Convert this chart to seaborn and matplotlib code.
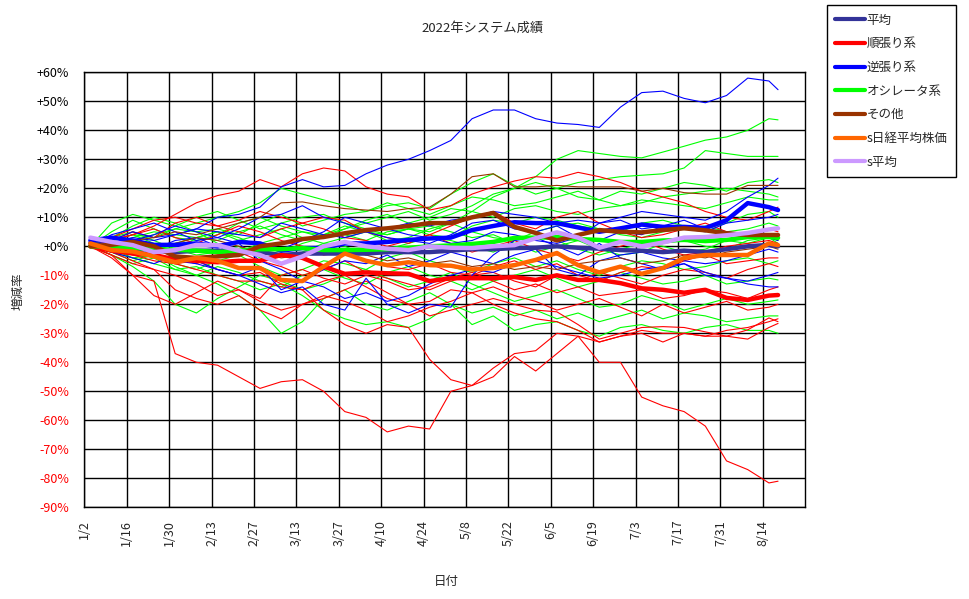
import matplotlib
matplotlib.use("Agg")
import matplotlib.pyplot as plt
import seaborn as sns
import pandas as pd
from datetime import datetime
from matplotlib.lines import Line2D

sns.set_theme(style="white")
plt.rcParams['font.family'] = ['Noto Sans CJK JP', 'DejaVu Sans']

# ---------------- data (weekly readings, % change) ----------------
date_labels = ["1/4", "1/11", "1/18", "1/25",
               "2/1", "2/8", "2/15", "2/22",
               "3/1", "3/8", "3/15", "3/22", "3/29",
               "4/5", "4/12", "4/19", "4/26",
               "5/3", "5/10", "5/17", "5/24", "5/31",
               "6/7", "6/14", "6/21", "6/28",
               "7/5", "7/12", "7/19", "7/26",
               "8/2", "8/9", "8/16", "8/19"]

x_tick_labels = ["1/2", "1/16", "1/30", "2/13", "2/27", "3/13", "3/27", "4/10",
                 "4/24", "5/8", "5/22", "6/5", "6/19", "7/3", "7/17", "7/31", "8/14"]
y_ticks = [60, 50, 40, 30, 20, 10, 0, -10, -20, -30, -40, -50, -60, -70, -80, -90]
y_tick_labels = ["+60%", "+50%", "+40%", "+30%", "+20%", "+10%", "+0%", "-10%", "-20%",
                 "-30%", "-40%", "-50%", "-60%", "-70%", "-80%", "-90%"]

# thick summary series
heikin = [1, 0, -0.5, -1.5, -2, -1.5, -1.5, -2, -2, -3, -2.5, -2.5, -2.5,
          -2.5, -2, -2, -2, -1.5, -1, -1, -0.6, -0.5, 0, -0.5, -0.8, -1.3,
          -1.5, -2, -1.5, -2, -1, 0, 0.5, 0]
jun_avg = [0, -1.5, -2.5, -3, -4.5, -5, -5.5, -5, -5, -3, -4, -7, -9.5,
           -9, -9.3, -9.5, -12, -11, -11, -11, -10.6, -11.6, -10, -11.6, -11.6, -12.7,
           -14.5, -15, -16, -15, -17.8, -18.5, -17, -16.8]
gyaku_avg = [2, 3, 2, 0.5, 0.5, 1, 0, 1.5, 1, -1.5, -0.6, -0.6, 1,
             1, 1.5, 2.2, 2.7, 3, 5.6, 7, 8.3, 8, 8, 6.5, 5, 6.2,
             7.5, 6.7, 6.7, 6.3, 9, 14.9, 13.5, 12.5]
osc_avg = [0, 0, -0.5, -1, -1.2, -1.5, -2, -1.5, -1, -1, -0.6, -1.3, -1.3,
           -1.2, -1, -0.5, 0, 0.3, 0.8, 1.5, 2.9, 3, 3.2, 2.5, 2.2, 1.5,
           1.5, 2, 2.2, 1.8, 2.2, 3.2, 3.2, 2.9]
sonota_avg = [0, 0.5, 1.5, 0, -3.5, -4, -3.5, -3, 0, 1, 2.5, 3.2, 4.5,
              5.6, 6.2, 7, 8, 8, 10, 11.5, 6.7, 4.6, 2, 3.9, 5.6, 5,
              4.8, 5.6, 6.2, 5.5, 4.5, 3.9, 3.9, 3.9]
s_nikkei = [1, -1.3, -1.8, -3.5, -5.5, -4, -5, -7.5, -7.5, -11.6, -12, -7, -2.5,
            -5, -6.5, -5.5, -6.5, -6.7, -8, -7.5, -6.5, -4.7, -2.3, -6.5, -9, -7,
            -9.5, -7.5, -4, -3, -3, -3, 1, 0.4]
s_heikin = [3, 1.5, 0.4, -2, -1.3, 0.5, 0.4, -1.5, -3, -6, -3.5, 0, 1.5,
            0, -0.8, -1.3, 0, -0.5, -0.6, 0, 0.4, 2.8, 4.8, 3, -0.5, 1.5,
            0, 1.3, 3, 3.2, 3.8, 4.6, 5.8, 6.2]

# thin individual systems - 逆張り (blue)
blue_1 = [0, 2, 5, 3, 4, 6, 10, 11, 13.5, 20.5, 23, 20.5, 21,
          25, 28, 30, 33, 36.5, 44, 47, 47, 44, 42.5, 42, 41, 48,
          53, 53.5, 51, 49.5, 52, 58, 57, 54]
blue_2 = [0, -1, -2, -3, -5, -6, -8, -10, -13, -16, -14, -20, -22,
          -11, -20, -23, -20, -21, -10, -3, 2, 3, 0, -3, 1, -4,
          -6, -8, -6, -10, -11, -13, -14, -14]
blue_3 = [0, 1, 3, 2, 4, 6, 5, 4, 3, 8, 6, 4, 3,
          5, 6, 8, 7, 9, 10, 12, 11, 10, 8, 9, 8, 10,
          12, 11, 10, 9, 12, 17, 21, 23.5]
blue_4 = [0, 4, 6, 8, 5, 2, 3, 6, 10, 11, 14, 10, 8,
          5, 3, 2, 1, 4, 8, 9, 6, 5, 7, 3, 8, 9,
          6, 7, 6, 5, 8, 9, 10, 11]
blue_5 = [0, -2, -4, -6, -3, -5, -8, -10, -7, -15, -12, -8, -5,
          -6, -3, -7, -5, -2, -4, -6, -3, -1, -8, -10, -5, -3,
          -2, -4, -5, -6, -5, -3, -1, -2]
blue_6 = [0, 3, 1, -1, 2, 3, 0, -3, -2, -1, 2, 5, 10,
          8, 6, 4, 3, 1, 2, 5, 4, 2, 1, 3, 2, 5,
          4, 7, 9, 6, 5, 4, 3, 2]
blue_7 = [0, -1, 2, 4, 7, 5, 3, 1, -5, -8, -12, -14, -18,
          -16, -19, -17, -13, -10, -8, -9, -6, -5, -7, -9, -11, -10,
          -8, -7, -6, -9, -11, -12, -10, -9]

# thin individual systems - 順張り (red)
red_1 = [0, 2, 4, 7, 11, 15, 17.5, 19, 23, 20.5, 25, 27, 26,
         20.5, 18, 17, 12.5, 14, 18, 20.5, 22.5, 24, 23.5, 25.5, 24, 22,
         19, 17, 15, 12, 10, 9, 12, 13.5]
red_2 = [0, -3, -10, -12, -37, -40, -41, -45, -49, -46.7, -46, -50, -57,
         -59, -64, -62, -63, -50, -48, -45, -38, -43, -37, -31, -40, -40,
         -52, -55, -57, -62, -74, -77, -81.6, -81]
red_3 = [0, -1, -3, -5, -6, -8, -10, -12, -12, -14, -15, -22, -27,
         -30, -27, -28, -39, -46, -48, -42, -37, -36, -30, -31, -33, -31,
         -30, -33, -30, -31, -31, -32, -28, -26.6]
red_4 = [0, -2, -5, -8, -15, -18, -20, -17, -22, -25, -20, -18, -15,
         -12, -16, -20, -24, -22, -20, -18, -20, -22, -22.6, -27, -32, -30,
         -28, -27.7, -28, -29.5, -31, -28.8, -24.7, -26]
red_5 = [0, -1, -2, -4, -6, -5, -8, -10, -9, -13, -15, -12, -10,
         -14, -18, -20, -19, -15, -16, -20, -23, -25, -26, -29, -33, -31,
         -29, -30, -30, -31, -29, -28, -26, -25]
red_6 = [0, 1, -1, -3, -4, -6, -3, -2, -5, -7, -10, -8, -5,
         -9, -11, -13, -15, -12, -10, -9, -12, -14, -10, -12, -9, -11,
         -13, -10, -8, -9, -11, -8, -6, -7]
red_7 = [0, 2, 4, 6, 3, 1, 4, 7, 5, 2, 0, -3, -2,
         -5, -7, -8, -6, -9, -10, -7, -5, -8, -6, -10, -12, -9,
         -7, -8, -5, -3, -6, -5, -4, -4]
red_8 = [0, -3, -6, -8, -10, -13, -17, -15, -19, -22, -20, -17, -19,
         -22, -26, -24, -21, -19, -16, -14, -17, -19, -22, -20, -18, -21,
         -24, -20, -23, -21, -19, -22, -21, -20]
red_9 = [0, 2, 5, 3, 8, 10, 7, 5, 3, 6, 8, 10, 9,
         5, 3, 1, 4, 7, 10, 12, 8, 6, 10, 12, 8, 5,
         3, 4, 6, 8, 5, 4, 6, 5]
red_10 = [0, 3, 6, 9, 10, 8, 7, 9, 12, 10, 8, 6, 3,
          2, 0, 2, 4, 1, -2, 0, 2, -1, -3, -5, -2, 0,
          2, -1, -3, -2, 0, 1, 2, 1]
red_11 = [0, -4, -10, -17, -20, -16, -12, -15, -18, -10, -8, -11, -13,
          -10, -12, -15, -14, -11, -9, -12, -15, -13, -16, -14, -17, -16,
          -15, -18, -17, -15, -16, -18, -15, -14]

# thin individual systems - オシレータ (green)
green_1 = [0, 2, 4, 1, -2, 3, 5, 2, 4, 6, 3, 1, 3,
           5, 4, 6, 5, 8, 12, 17, 20, 24, 30, 33, 32, 31,
           30.5, 32.5, 34.5, 36.6, 37.7, 40, 44, 43.6]
green_2 = [0, 3, 7, 10, 8, 5, 6, 4, 8, 11, 7, 9, 11,
           12, 14, 15, 13, 18, 22, 25, 21, 18, 20, 22, 23, 24,
           24.5, 25, 27, 33, 32, 31, 31, 31]
green_3 = [0, 5, 9, 6, 3, 2, 4, 8, 10, 7, 5, 3, 6,
           8, 10, 12, 9, 11, 14, 18, 20, 22, 20, 17, 16, 19,
           18, 20, 22, 21, 19, 22, 23, 22]
green_4 = [0, 1, 3, 5, 4, 3, 2, 5, 7, 4, 2, 4, 6,
           9, 11, 8, 10, 13, 12, 10, 13, 14, 12, 11, 13, 14,
           16, 15, 14, 13, 15, 17, 16, 16]
green_5 = [0, 2, 1, -1, 1, 3, 5, 3, 0, -2, 1, 3, 4,
           2, 5, 6, 4, 3, 7, 9, 8, 10, 9, 7, 6, 5,
           8, 9, 7, 6, 8, 11, 12, 10]
green_6 = [0, -1, 2, 4, 6, 5, 1, -2, 1, 3, 5, 4, 7,
           5, 2, 3, 6, 8, 5, 3, 2, 5, 7, 8, 6, 4,
           3, 5, 6, 7, 5, 6, 8, 7]
green_7 = [0, 3, 5, 2, -1, -3, -2, 0, -4, -6, -2, 1, 0,
           -3, -1, 1, 3, 2, 0, -2, 1, 3, 2, -1, -3, -1,
           1, 0, -2, -1, 2, 1, 3, 1]
green_8 = [0, -2, -4, -3, -6, -8, -5, -3, -7, -10, -8, -5, -6,
           -8, -4, -2, -5, -7, -9, -6, -4, -7, -5, -8, -10, -7,
           -5, -6, -8, -7, -5, -4, -6, -5]
green_9 = [0, -3, -6, -4, -8, -10, -7, -9, -12, -14, -10, -8, -11,
           -13, -9, -7, -10, -12, -15, -12, -10, -8, -11, -14, -12, -9,
           -11, -13, -12, -10, -13, -12, -11, -11.6]
green_10 = [0, -3, -7, -12, -20, -23, -18, -14, -10, -12, -15, -13, -10,
            -8, -11, -14, -12, -9, -13, -16, -19, -17, -15, -18, -21, -20,
            -17, -19, -22, -20, -18, -20, -19, -18.5]
green_11 = [0, -2, -5, -3, -7, -10, -13, -17, -22, -30, -26, -18, -15,
            -20, -22, -19, -16, -20, -23, -21, -24, -22, -25, -23, -26, -24,
            -22, -25, -23, -24, -26, -25, -24, -24]
green_12 = [0, -1, -4, -6, -8, -7, -10, -12, -15, -13, -17, -22, -25,
            -27, -26, -28, -25, -20, -27, -24, -29, -27, -26, -29, -31, -28,
            -27, -29, -30, -28, -27, -29, -29, -30]
green_13 = [0, 8, 11, 9, 7, 10, 12, 9, 6, 8, 10, 11, 8,
            6, 4, 6, 7, 5, 3, 4, 1, -2, 0, 2, -1, -3,
            -2, 1, 2, 0, -1, 2, 3, 2]
green_14 = [0, 2, 4, 3, 6, 8, 10, 12, 15, 20, 18, 16, 14,
            12, 15, 13, 11, 14, 17, 16, 14, 15, 17, 19, 16, 14,
            15, 17, 18, 19, 20, 19, 18, 17]

# thin individual systems - その他 (brown)
brown_1 = [0, 1, 2, 3, 5, 4, 6, 8, 10, 15, 15.3, 14, 13,
           12.5, 12, 13, 13.5, 18, 24, 25, 20.5, 20.5, 21, 20.5, 20.5, 20.5,
           19, 20, 18.5, 18, 18, 21, 21, 21]
brown_2 = [0, -1, -2, -1, 1, 3, 2, 0, -2, -4, -3, -2, -1,
           -3, -5, -4, -6, -5, -7, -6, -8, -7, -8, -6, -5, -4,
           -6, -5, -3, -4, -2, -1, 0, -1]

# ---------------- figure ----------------
dates = [datetime.strptime("2022/" + d, "%Y/%m/%d") for d in date_labels]

fig = plt.figure(figsize=(9.70, 5.99), dpi=100)
fig.patch.set_facecolor("white")
ax = fig.add_axes([84.3 / 970, 1 - 507.3 / 599, (805.3 - 84.3) / 970, (507.3 - 72.3) / 599])
ax.set_facecolor("white")

C_RED, C_BLUE, C_GREEN, C_BROWN = "#FF0000", "#0000FF", "#00FF00", "#993300"
C_NAVY, C_ORANGE, C_LAV = "#333399", "#FF6600", "#CC99FF"

thin = [(g, C_GREEN) for g in [green_1, green_2, green_3, green_4, green_5, green_6, green_7,
                               green_8, green_9, green_10, green_11, green_12, green_13, green_14]]
thin += [(r, C_RED) for r in [red_1, red_2, red_3, red_4, red_5, red_6, red_7, red_8,
                              red_9, red_10, red_11]]
thin += [(b, C_BLUE) for b in [blue_1, blue_2, blue_3, blue_4, blue_5, blue_6, blue_7]]
thin += [(b, C_BROWN) for b in [brown_1, brown_2]]

for vals, col in thin:
    sns.lineplot(x=dates, y=vals, ax=ax, color=col, lw=0.8, legend=False, zorder=3)

thick = [("平均", heikin, C_NAVY),
         ("順張り系", jun_avg, C_RED),
         ("逆張り系", gyaku_avg, C_BLUE),
         ("オシレータ系", osc_avg, C_GREEN),
         ("その他", sonota_avg, C_BROWN),
         ("s日経平均株価", s_nikkei, C_ORANGE),
         ("s平均", s_heikin, C_LAV)]
for name, vals, col in thick:
    sns.lineplot(x=dates, y=vals, ax=ax, color=col, lw=3.2, legend=False, zorder=4)

# axes styling
tick_dates = pd.date_range("2022-01-02", periods=len(x_tick_labels), freq="14D")
ax.set_xlim(pd.Timestamp("2022-01-02"), pd.Timestamp("2022-08-28"))
ax.set_xticks(tick_dates)
ax.set_xticklabels(x_tick_labels, rotation=90, fontsize=9)
ax.set_ylim(-90, 60)
ax.set_yticks(y_ticks)
ax.set_yticklabels(y_tick_labels, fontsize=9)
for lab, v in zip(ax.get_yticklabels(), y_ticks):
    lab.set_color("#FF0000" if v < 0 else "black")
ax.tick_params(axis="both", length=0)
ax.tick_params(axis="y", pad=11)
ax.tick_params(axis="x", pad=9)
ax.grid(True, color="black", lw=1.0, zorder=1)
ax.set_axisbelow(True)
for s in ax.spines.values():
    s.set_color("black")
    s.set_linewidth(1.0)
ax.set_xlabel("")
ax.set_ylabel("")

fig.text(483 / 970, 1 - 28 / 599, "2022年システム成績", ha="center", va="center", fontsize=9.5)
fig.text(446 / 970, 1 - 581 / 599, "日付", ha="center", va="center", fontsize=9)
fig.text(18 / 970, 1 - 291 / 599, "増減率", ha="center", va="center", rotation=90, fontsize=9)

handles = [Line2D([0], [0], color=c, lw=3.0) for _, _, c in thick]
labels = [n for n, _, _ in thick]
leg = fig.legend(handles, labels, loc="upper left",
                 bbox_to_anchor=(826.7 / 970, 1 - 5 / 599), fontsize=9,
                 frameon=True, fancybox=False, framealpha=1, edgecolor="black",
                 handlelength=2.4, handletextpad=0.1, labelspacing=0.85,
                 borderpad=0.7, borderaxespad=0)
leg.get_frame().set_linewidth(1.0)

fig.savefig("out.png", dpi=100, facecolor="white")
